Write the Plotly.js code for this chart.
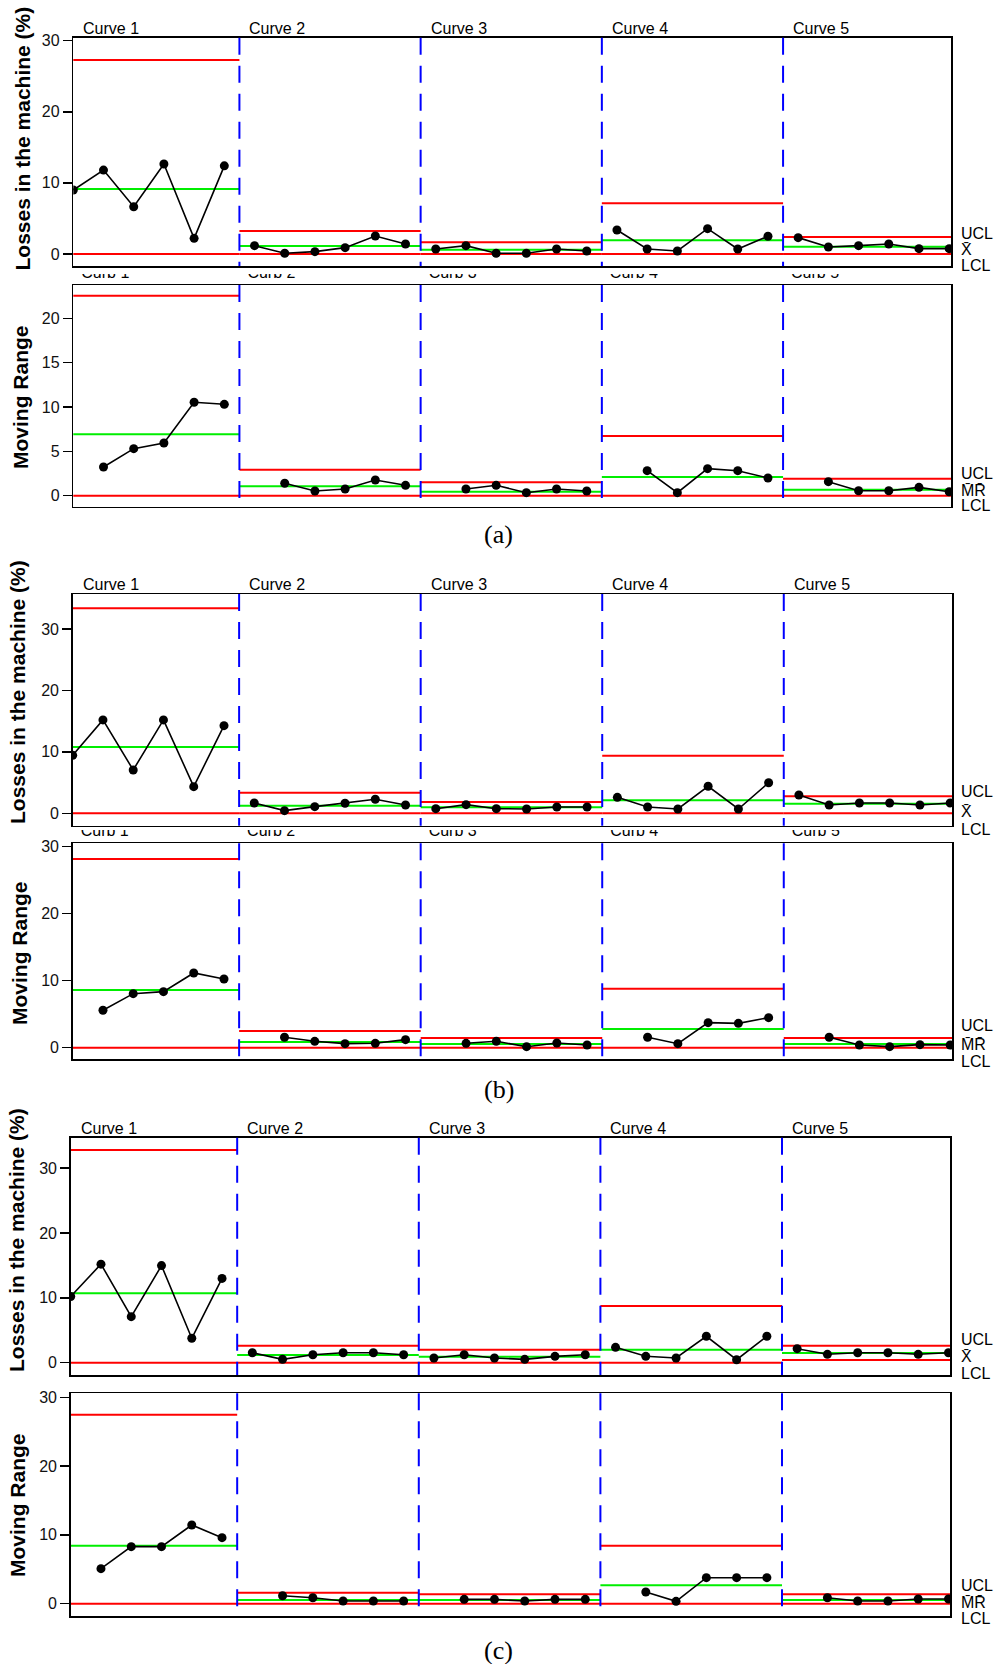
<!DOCTYPE html>
<html><head><meta charset="utf-8">
<script src="https://cdn.plot.ly/plotly-3.0.1.min.js"></script>
<style>html,body{margin:0;padding:0;background:#fff}</style>
</head><body><div id="chart" style="width:997px;height:1664px"></div>
<script>
// ---------------- data ----------------
const curveLabels = ['Curve 1','Curve 2','Curve 3','Curve 4','Curve 5'];
const mrLabels = ['Curb 1','Curb 2','Curb 3','Curb 4','Curb 5'];
const xLimitLabels = ['UCL','X\u0304','LCL'];
const mrLimitLabels = ['UCL','M\u0304R\u0304','LCL'];
const captions = ['(a)','(b)','(c)'];
const yTitleX = 'Losses in the machine (%)';
const yTitleMR = 'Moving Range';

// (a) individuals
const aX = [
  [9.0, 11.8, 6.65, 12.66, 2.2, 12.4],
  [1.17, 0.1, 0.33, 0.89, 2.53, 1.41],
  [0.7, 1.17, 0.1, 0.1, 0.7, 0.42],
  [3.38, 0.7, 0.42, 3.56, 0.7, 2.49],
  [2.3, 0.98, 1.17, 1.41, 0.75, 0.75]];
const aXUCL = [27.3, 3.23, 1.64, 7.13, 2.39];
const aXCL  = [9.14, 1.12, 0.6, 1.93, 1.03];
const aXLCL = [0, 0, 0, 0, 0];
// (a) moving range
const aMR = [
  [3.24, 5.3, 5.94, 10.53, 10.3],
  [1.4, 0.53, 0.75, 1.77, 1.17],
  [0.75, 1.17, 0.34, 0.75, 0.53],
  [2.82, 0.34, 3.05, 2.82, 2.0],
  [1.58, 0.56, 0.56, 0.94, 0.45]];
const aMRUCL = [22.55, 2.93, 1.51, 6.73, 1.92];
const aMRCL  = [6.92, 1.06, 0.45, 2.1, 0.68];
const aMRLCL = [0, 0, 0, 0, 0];

// (b) individuals
const bX = [
  [9.44, 15.2, 7.05, 15.2, 4.34, 14.27],
  [1.68, 0.43, 1.08, 1.63, 2.28, 1.35],
  [0.75, 1.41, 0.75, 0.7, 1.03, 1.03],
  [2.6, 1.03, 0.7, 4.4, 0.7, 4.98],
  [2.98, 1.35, 1.68, 1.68, 1.35, 1.68]];
const bXUCL = [33.4, 3.36, 1.84, 9.38, 2.77];
const bXCL  = [10.8, 1.24, 0.98, 2.12, 1.57];
const bXLCL = [0, 0, 0, 0, 0];
// (b) moving range
const bMR = [
  [5.58, 8.06, 8.36, 11.15, 10.25],
  [1.55, 0.95, 0.6, 0.65, 1.2],
  [0.65, 0.95, 0.15, 0.7, 0.4],
  [1.55, 0.6, 3.73, 3.63, 4.48],
  [1.55, 0.4, 0.15, 0.45, 0.4]];
const bMRUCL = [28.16, 2.49, 1.45, 8.8, 1.45];
const bMRCL  = [8.6, 0.85, 0.55, 2.79, 0.55];
const bMRLCL = [0, 0, 0, 0, 0];

// (c) individuals
const cX = [
  [10.2, 15.2, 7.1, 14.97, 3.76, 13.0],
  [1.54, 0.51, 1.23, 1.54, 1.54, 1.23],
  [0.72, 1.23, 0.72, 0.51, 0.98, 1.23],
  [2.37, 0.98, 0.72, 4.07, 0.46, 4.07],
  [2.16, 1.29, 1.54, 1.54, 1.29, 1.54]];
const cXUCL = [32.8, 2.62, 2.0, 8.75, 2.62];
const cXCL  = [10.7, 1.19, 0.93, 2.0, 1.5];
const cXLCL = [0, 0, 0, 0, 0.41];
// (c) moving range
const cMR = [
  [5.09, 8.29, 8.29, 11.44, 9.6],
  [1.16, 0.87, 0.39, 0.39, 0.39],
  [0.63, 0.63, 0.39, 0.63, 0.63],
  [1.7, 0.34, 3.78, 3.78, 3.78],
  [0.87, 0.39, 0.39, 0.68, 0.68]];
const cMRUCL = [27.47, 1.6, 1.36, 8.43, 1.36];
const cMRCL  = [8.43, 0.54, 0.54, 2.67, 0.54];
const cMRLCL = [0, 0, 0, 0, 0];

// ---------------- layout geometry (pixels) ----------------
const W = 997, H = 1664;
const FONT = 'Arial, "Liberation Sans", sans-serif';
const panels = [
  {obs:aX, vals:aX,  ucl:aXUCL,  cl:aXCL,  lcl:aXLCL,  mr:false, box:[73.3,951,37.7,266],    yr:[-1.69,30.42], dtick:10, tpos:[22,138.5], rl:[233.3,250,265]},
  {obs:aX, vals:aMR, ucl:aMRUCL, cl:aMRCL, lcl:aMRLCL, mr:true,  box:[73.3,951,285,506.7],   yr:[-1.24,23.75], dtick:5,  tpos:[20,397],   rl:[473.3,490,506]},
  {obs:bX, vals:bX,  ucl:bXUCL,  cl:bXCL,  lcl:bXLCL,  mr:false, box:[72.7,952,594,825.7],   yr:[-2.02,35.7],  dtick:10, tpos:[17,692],   rl:[791.7,811.7,829]},
  {obs:bX, vals:bMR, ucl:bMRUCL, cl:bMRCL, lcl:bMRLCL, mr:true,  box:[72.7,952,843.3,1059],  yr:[-1.69,30.5],  dtick:10, tpos:[19.5,953.5],rl:[1025,1044.3,1061]},
  {obs:cX, vals:cX,  ucl:cXUCL,  cl:cXCL,  lcl:cXLCL,  mr:false, box:[70.7,950.3,1137.7,1375],yr:[-1.9,34.7],  dtick:10, tpos:[16,1240],  rl:[1339.3,1356,1373.3]},
  {obs:cX, vals:cMR, ucl:cMRUCL, cl:cMRCL, lcl:cMRLCL, mr:true,  box:[70.7,950.3,1393.3,1616],yr:[-1.79,30.58], dtick:10, tpos:[17,1505],  rl:[1585,1602.7,1618]}
];
const XR = [1, 30.06];
// clipped "Curb" label strips: [panel index, clipTop, clipBottom, baseline]
const curbStrips = [[1, 274, 285, 280], [3, 830, 843, 838]];
const captionPos = [[499,534],[499,1089],[499,1650]];

const data = [];
const layout = {
  width: W, height: H, margin: {l:0, r:0, t:0, b:0},
  paper_bgcolor: '#fff', plot_bgcolor: 'rgba(0,0,0,0)', showlegend: false,
  annotations: [], shapes: [], font: {family: FONT, color: '#000'}
};

function offsets(obs){ const o=[]; let s=0; obs.forEach(c=>{o.push(s); s+=c.length;}); return o; }

panels.forEach((p, i) => {
  const n = i + 1, sfx = n > 1 ? n : '';
  const xa = 'x' + sfx, ya = 'y' + sfx;
  layout['xaxis' + sfx] = {domain:[p.box[0]/W, p.box[1]/W], range:XR, showticklabels:false, ticks:'',
    showline:true, mirror:true, linecolor:'#000', linewidth:1.5, showgrid:false, zeroline:false, anchor:ya, fixedrange:true};
  layout['yaxis' + sfx] = {domain:[1-p.box[3]/H, 1-p.box[2]/H], range:p.yr, tickmode:'linear', tick0:0, dtick:p.dtick,
    ticks:'outside', ticklen:9, tickwidth:1.5, tickcolor:'#000', tickfont:{family:FONT, size:16, color:'#111'},
    showline:true, mirror:true, linecolor:'#000', linewidth:1.5, showgrid:false, zeroline:false, anchor:xa, fixedrange:true};
  const off = offsets(p.obs);
  // control limits
  [[p.ucl,'#ff0000'],[p.cl,'#00ee00'],[p.lcl,'#ff0000']].forEach(([lim,col]) => {
    const xs=[], ys=[];
    lim.forEach((v,k) => { xs.push(off[k]+0.5, off[k]+p.obs[k].length+0.5, null); ys.push(v, v, null); });
    data.push({type:'scatter', mode:'lines', x:xs, y:ys, xaxis:xa, yaxis:ya, line:{color:col, width:2}, hoverinfo:'skip'});
  });
  // data series
  p.vals.forEach((curve,k) => {
    const xs = curve.map((v,j) => off[k] + j + (p.mr ? 2 : 1));
    data.push({type:'scatter', mode:'lines+markers', x:xs, y:curve, xaxis:xa, yaxis:ya,
      line:{color:'#000', width:1.6}, marker:{color:'#000', size:9}});
  });
  // curve separators
  off.slice(1).forEach(o => {
    layout.shapes.push({type:'line', xref:xa, yref:ya+' domain', x0:o+0.5, x1:o+0.5, y0:1, y1:0,
      line:{color:'#0000ff', width:2, dash:'17px,11px'}});
  });
  // curve labels above individuals panels
  if (!p.mr) {
    off.forEach((o,k) => {
      layout.annotations.push({xref:xa, yref:ya+' domain', x:Math.max(o+0.5, XR[0]), y:1, xanchor:'left', yanchor:'bottom',
        xshift:8, yshift:-1, text:curveLabels[k], showarrow:false, font:{family:FONT, size:16, color:'#000'}});
    });
  }
  // y title
  layout.annotations.push({xref:'paper', yref:'paper', x:p.tpos[0]/W, y:1-p.tpos[1]/H, xanchor:'center', yanchor:'middle',
    textangle:-90, text:p.mr ? yTitleMR : yTitleX, showarrow:false, font:{family:FONT, size:21, weight:'bold', color:'#000'}});
  // right-side limit labels
  const rl = p.mr ? mrLimitLabels : xLimitLabels;
  rl.forEach((t,m) => {
    layout.annotations.push({xref:'paper', yref:'paper', x:960/W, y:1-p.rl[m]/H, xanchor:'left', yanchor:'middle',
      text:t, showarrow:false, borderpad:0, font:{family:FONT, size:16, color:'#000'}});
  });
});

// clipped "Curb" labels (top of the text hidden)
curbStrips.forEach((s, m) => {
  const n = 7 + m, p = panels[s[0]];
  const xa = 'x' + n, ya = 'y' + n;
  layout['xaxis' + n] = {domain:[p.box[0]/W, p.box[1]/W], range:XR, visible:false, anchor:ya, fixedrange:true};
  layout['yaxis' + n] = {domain:[1-s[2]/H, 1-s[1]/H], range:[s[2], s[1]], visible:false, anchor:xa, fixedrange:true};
  const off = offsets(p.obs);
  const pxPerUnit = (p.box[1]-p.box[0])/(XR[1]-XR[0]);
  data.push({type:'scatter', mode:'text', xaxis:xa, yaxis:ya, cliponaxis:true, hoverinfo:'skip',
    x: off.map(o => Math.max(o+0.5, XR[0]) + 8/pxPerUnit),
    y: off.map(() => s[3] - 5.6),
    text: mrLabels, textposition:'middle right', textfont:{family:FONT, size:16, color:'#000'}});
});

captions.forEach((c,k) => {
  layout.annotations.push({xref:'paper', yref:'paper', x:captionPos[k][0]/W, y:1-captionPos[k][1]/H, xanchor:'center', yanchor:'middle',
    text:c, showarrow:false, font:{family:'"Times New Roman", "Liberation Serif", serif', size:26, color:'#000'}});
});

Plotly.newPlot('chart', data, layout, {staticPlot:true, displayModeBar:false});
</script>
</body></html>
